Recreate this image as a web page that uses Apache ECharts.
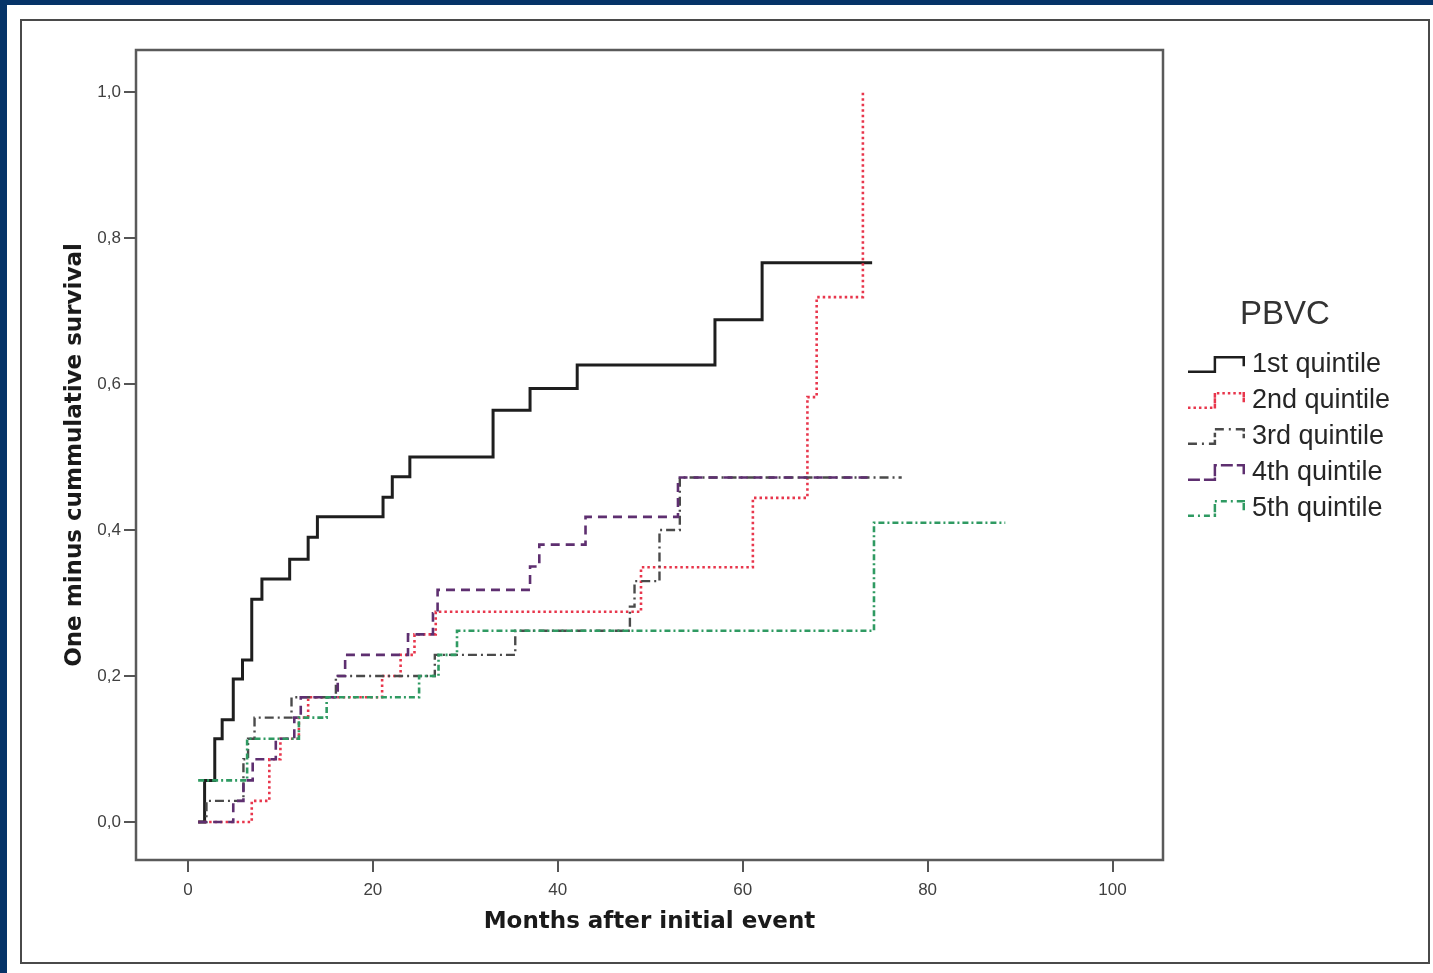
<!DOCTYPE html>
<html>
<head>
<meta charset="utf-8">
<title>PBVC – One minus cumulative survival</title>
<script src="https://cdn.jsdelivr.net/npm/echarts@6/dist/echarts.min.js"></script>
<style>
  html, body { margin: 0; padding: 0; background: #ffffff; }
  #chart { width: 1433px; height: 973px; }
</style>
</head>
<body>
<div id="chart"></div>
<script>
// Kaplan–Meier style step curves (one minus cumulative survival) by PBVC quintile.
const xTicks = [0, 20, 40, 60, 80, 100];
const yTicks = [0, 0.2, 0.4, 0.6, 0.8, 1.0];

const q1Months = [1.1, 1.8, 2.9, 3.7, 4.9, 5.9, 6.9, 8.0, 11.0, 13.0, 14.0, 21.1, 22.1, 24.0, 33.0, 37.0, 42.1, 57.0, 62.1, 74.0];
const q1Values = [0, 0.057, 0.114, 0.140, 0.196, 0.222, 0.305, 0.333, 0.360, 0.390, 0.418, 0.445, 0.473, 0.500, 0.564, 0.594, 0.626, 0.688, 0.766, 0.766];

const q2Months = [1.1, 6.9, 8.8, 10.0, 12.0, 13.0, 21.0, 23.0, 24.5, 26.8, 49.0, 61.1, 67.0, 68.0, 73.0];
const q2Values = [0, 0.029, 0.086, 0.114, 0.143, 0.171, 0.200, 0.229, 0.257, 0.288, 0.349, 0.444, 0.582, 0.719, 1.0];

const q3Months = [1.1, 2.0, 6.0, 6.5, 7.2, 11.2, 16.0, 26.7, 35.4, 47.8, 48.3, 51.0, 53.2, 77.2];
const q3Values = [0, 0.029, 0.086, 0.114, 0.143, 0.171, 0.200, 0.229, 0.262, 0.295, 0.330, 0.400, 0.472, 0.472];

const q4Months = [1.1, 4.9, 6.0, 7.0, 9.5, 11.5, 12.2, 16.2, 17.0, 23.8, 26.5, 27.0, 37.0, 38.0, 43.0, 53.0, 74.0];
const q4Values = [0, 0.029, 0.057, 0.086, 0.114, 0.143, 0.171, 0.200, 0.229, 0.257, 0.286, 0.318, 0.350, 0.380, 0.418, 0.472, 0.472];

const q5Months = [1.1, 6.4, 12.0, 15.0, 25.0, 27.1, 29.1, 74.2, 88.4];
const q5Values = [0.057, 0.114, 0.143, 0.171, 0.200, 0.229, 0.262, 0.410, 0.410];

const seriesNames = ['1st quintile', '2nd quintile', '3rd quintile', '4th quintile', '5th quintile'];

function pairs(xs, ys) {
  return xs.map((x, i) => [x, ys[i]]);
}

// Small step-shaped legend glyph, built as filled strokes so a dash pattern survives.
function stepIcon(pattern) {
  const pts = [[0, 16], [27, 16], [27, 1], [56, 1], [56, 9]];
  const h = 1.25;
  let d = '';
  const rect = (x0, y0, x1, y1) => {
    d += 'M' + x0 + ',' + y0 + 'L' + x1 + ',' + y0 + 'L' + x1 + ',' + y1 + 'L' + x0 + ',' + y1 + 'Z';
  };
  let idx = 0;
  let remain = pattern ? pattern[0] : Infinity;
  let on = true;
  for (let i = 0; i < pts.length - 1; i++) {
    const [ax, ay] = pts[i];
    const [bx, by] = pts[i + 1];
    const horiz = ay === by;
    const len = horiz ? Math.abs(bx - ax) : Math.abs(by - ay);
    const sgn = horiz ? Math.sign(bx - ax) : Math.sign(by - ay);
    let pos = 0;
    while (pos < len - 1e-6) {
      const step = Math.min(remain, len - pos);
      if (on) {
        if (horiz) {
          const xa = ax + sgn * pos, xb = ax + sgn * (pos + step);
          rect(Math.min(xa, xb), ay - h, Math.max(xa, xb), ay + h);
        } else {
          const ya = ay + sgn * pos, yb = ay + sgn * (pos + step);
          rect(ax - h, Math.min(ya, yb) - h, ax + h, Math.max(ya, yb) + h);
        }
      }
      pos += step;
      remain -= step;
      if (pattern && remain <= 1e-6) {
        idx = (idx + 1) % pattern.length;
        remain = pattern[idx];
        on = !on;
      }
    }
  }
  // end caps keep the glyph's extent identical for every pattern
  rect(56 - h, 7, 56 + h, 9 + h);
  rect(56 - h, 1 - h, 56 + h, 2);
  return 'path://' + d;
}

const curves = [
  { name: seriesNames[0], data: pairs(q1Months, q1Values), color: '#1e1e1e', width: 3,   type: 'solid',        icon: null },
  { name: seriesNames[1], data: pairs(q2Months, q2Values), color: '#e8364c', width: 2.6, type: [2.5, 3],      icon: [2.5, 3] },
  { name: seriesNames[2], data: pairs(q3Months, q3Values), color: '#4a4a4a', width: 2.4, type: [9, 4, 2, 4],  icon: [9, 5, 2, 5] },
  { name: seriesNames[3], data: pairs(q4Months, q4Values), color: '#5e2f70', width: 2.6, type: [9, 6],        icon: [12, 4] },
  { name: seriesNames[4], data: pairs(q5Months, q5Values), color: '#2f9a62', width: 2.6, type: [6, 3, 2, 3],  icon: [6, 4, 2, 4] }
];

const chart = echarts.init(document.getElementById('chart'), null, { renderer: 'canvas' });

const option = {
  animation: false,
  backgroundColor: '#ffffff',
  graphic: [
    // page framing: dark blue edge and thin grey outer box
    { type: 'rect', silent: true, z: -10, shape: { x: 0, y: 0, width: 1433, height: 5 }, style: { fill: '#063468' } },
    { type: 'rect', silent: true, z: -10, shape: { x: 0, y: 0, width: 7, height: 973 }, style: { fill: '#063468' } },
    { type: 'rect', silent: true, z: -9, shape: { x: 21, y: 20, width: 1408, height: 943 }, style: { fill: 'none', stroke: '#4a4a4a', lineWidth: 2 } }
  ],
  title: {
    text: 'PBVC',
    left: 1235,
    top: 293,
    textStyle: { fontFamily: 'Liberation Sans, Arial, sans-serif', fontSize: 33, fontWeight: 'normal', color: '#333333' }
  },
  legend: {
    orient: 'vertical',
    left: 1183,
    top: 345,
    itemWidth: 57,
    itemHeight: 17,
    itemGap: 7,
    symbolKeepAspect: false,
    data: curves.map(c => ({ name: c.name, icon: stepIcon(c.icon) })),
    textStyle: { fontFamily: 'Liberation Sans, Arial, sans-serif', fontSize: 27, color: '#262626', lineHeight: 29, padding: [0, 0, 0, 2] }
  },
  grid: {
    left: 136,
    right: 270,
    top: 50,
    bottom: 113,
    show: true,
    borderColor: '#5a5a5a',
    borderWidth: 2.5,
    backgroundColor: '#ffffff'
  },
  xAxis: {
    type: 'value',
    min: -5.62,
    max: 105.46,
    name: 'Months after initial event',
    nameLocation: 'middle',
    nameGap: 51,
    nameTextStyle: { fontFamily: 'DejaVu Sans, sans-serif', fontSize: 23, fontWeight: 'bold', color: '#1a1a1a' },
    axisLine: { show: false, onZero: false },
    splitLine: { show: false },
    axisTick: { show: true, customValues: xTicks, length: 12, lineStyle: { color: '#555555', width: 2 } },
    axisLabel: {
      customValues: xTicks,
      margin: 22,
      fontFamily: 'Liberation Sans, Arial, sans-serif',
      fontSize: 17,
      color: '#404040'
    }
  },
  yAxis: {
    type: 'value',
    min: -0.052,
    max: 1.0575,
    name: 'One minus cummulative survival',
    nameLocation: 'middle',
    nameGap: 48,
    nameTextStyle: { fontFamily: 'DejaVu Sans, sans-serif', fontSize: 23, fontWeight: 'bold', color: '#1a1a1a' },
    axisLine: { show: false, onZero: false },
    splitLine: { show: false },
    axisTick: { show: true, customValues: yTicks, length: 12, lineStyle: { color: '#555555', width: 2 } },
    axisLabel: {
      customValues: yTicks,
      margin: 15,
      fontFamily: 'Liberation Sans, Arial, sans-serif',
      fontSize: 17,
      color: '#404040',
      formatter: v => v.toFixed(1).replace('.', ',')
    }
  },
  series: curves.map(c => ({
    name: c.name,
    type: 'line',
    step: 'end',
    symbol: 'none',
    data: c.data,
    color: c.color,
    lineStyle: { color: c.color, width: c.width, type: c.type, cap: 'butt', join: 'miter' },
    emphasis: { disabled: true }
  }))
};

chart.setOption(option);
</script>
</body>
</html>
